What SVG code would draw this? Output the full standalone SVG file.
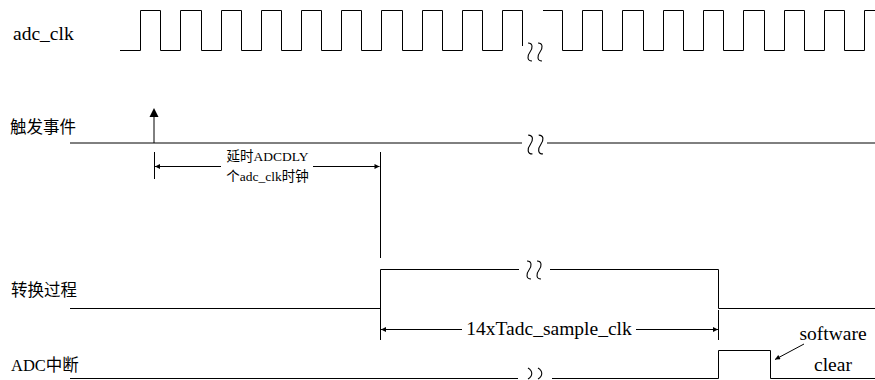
<svg xmlns="http://www.w3.org/2000/svg" width="875" height="380" viewBox="0 0 875 380">
<style>
.sig{fill:none;stroke:#000;stroke-width:1}
.ln{fill:none;stroke:#000;stroke-width:1}
.sq{fill:none;stroke:#000;stroke-width:1.1}
.lbl{font-family:"Liberation Serif",serif;fill:#000}
.cjk{font-family:"Noto Sans CJK SC",sans-serif}
.ah{fill:#000}
</style>
<defs>
<path id="sqz" d="M4,1 C9,1 9,6 6,10 C3,14 3,19 8,19 M14,1 C19,1 19,6 16,10 C13,14 13,19 18,19"/>
<marker id="arr" viewBox="0 0 10 10" refX="10" refY="5" markerWidth="7" markerHeight="5" markerUnits="userSpaceOnUse" orient="auto-start-reverse">
<path d="M0,0 L10,5 L0,10 Z" class="ah"/>
</marker>
</defs>
<rect width="875" height="380" fill="#fff"/>

<g id="adc_clk">
<text class="lbl" x="13" y="40" font-size="19.5">adc_clk</text>
<path class="sig" d="M120,50.5 H140.5 V10.5 H160.5 V50.5 H180.5 V10.5 H201.5 V50.5 H221.5 V10.5 H241.5 V50.5 H261.5 V10.5 H281.5 V50.5 H301.5 V10.5 H321.5 V50.5 H341.5 V10.5 H361.5 V50.5 H381.5 V10.5 H402.5 V50.5 H422.5 V10.5 H442.5 V50.5 H462.5 V10.5 H482.5 V50.5 H502.5 V10.5 H522.5 V46"/>
<path class="sig" d="M543,10.5 H562.5 V50.5 H582.5 V10.5 H602.5 V50.5 H622.5 V10.5 H643.5 V50.5 H663.5 V10.5 H683.5 V50.5 H703.5 V10.5 H723.5 V50.5 H743.5 V10.5 H764.5 V50.5 H784.5 V10.5 H804.5 V50.5 H824.5 V10.5 H844.5 V50.5 H864.5 V10.5 H875"/>
<use href="#sqz" class="sq" transform="translate(524,42)"/>
</g>

<g id="trigger">
<text class="lbl cjk" x="10" y="133" font-size="16.5">触发事件</text>
<path class="sig" d="M70,143 H522 M547,143 H875"/>
<use href="#sqz" class="sq" transform="translate(524,134) scale(1.05,1.05)"/>
<path class="sig" d="M154,143 V116"/>
<path class="ah" d="M154,108 L149.5,117 L158.5,117 Z"/>
</g>

<g id="conversion">
<text class="lbl cjk" x="11" y="295.5" font-size="16.5">转换过程</text>
<path class="sig" d="M70,308.5 H380.5 V269.5 H519 M550,269.5 H718.5 V308.5 H875"/>
<use href="#sqz" class="sq" transform="translate(523,260)"/>
</g>

<g id="adc_int">
<text class="lbl" x="11" y="371" font-size="16.5">ADC<tspan class="cjk">中断</tspan></text>
<path class="sig" d="M70,378.5 H518 M552,378.5 H718.5 V350.5 H770.5 V378.5 H875"/>
<path class="sq" d="M528,368 C533,371 533,376 528,379 M538,368 C543,371 543,376 538,379"/>
</g>

<g id="connectors">
<path class="ln" d="M154.5,152 V179"/>
<path class="ln" d="M380.5,152 V258"/>
<path class="ln" d="M221,166.5 H155" marker-end="url(#arr)"/>
<path class="ln" d="M313,166.5 H379.5" marker-end="url(#arr)"/>
<text class="lbl" x="267.5" y="161" font-size="13.5" text-anchor="middle"><tspan class="cjk">延时</tspan>ADCDLY</text>
<text class="lbl" x="267.5" y="180.5" font-size="13.5" text-anchor="middle"><tspan class="cjk">个</tspan>adc_clk<tspan class="cjk">时钟</tspan></text>
<path class="ln" d="M380.5,308 V340 M718.5,310 V340"/>
<path class="ln" d="M462,329.5 H381" marker-end="url(#arr)"/>
<path class="ln" d="M636,329.5 H718" marker-end="url(#arr)"/>
<text class="lbl" x="549" y="335" font-size="19.5" text-anchor="middle">14xTadc_sample_clk</text>
<path class="ln" d="M804,344 L775,359.5" marker-end="url(#arr)"/>
<text class="lbl" x="833" y="340" font-size="19.5" text-anchor="middle">software</text>
<text class="lbl" x="833" y="371" font-size="19.5" text-anchor="middle">clear</text>
</g>
</svg>
